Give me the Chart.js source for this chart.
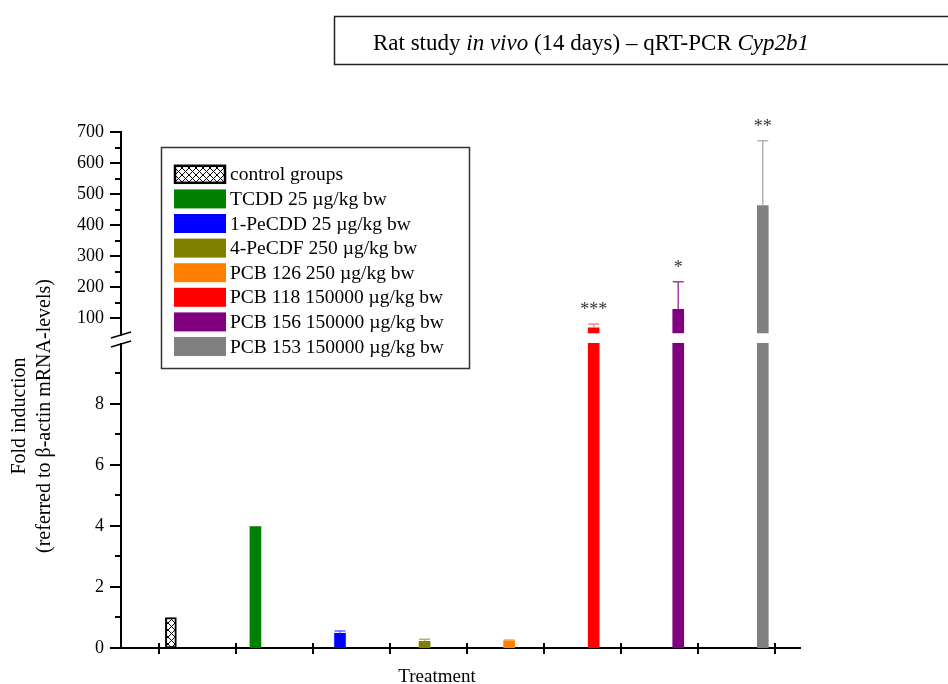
<!DOCTYPE html>
<html>
<head>
<meta charset="utf-8">
<script src="https://cdn.jsdelivr.net/npm/chart.js@4.4.0/dist/chart.umd.min.js"></script>
<style>
  body { margin: 0; background: #fff; }
  #wrap { width: 948px; height: 684px; }
</style>
</head>
<body>
<div id="wrap"><canvas id="myChart" width="948" height="684"></canvas></div>
<script>
const ctx = document.getElementById('myChart');

// data
const categories = [
  'control groups',
  'TCDD 25 µg/kg bw',
  '1-PeCDD 25 µg/kg bw',
  '4-PeCDF 250 µg/kg bw',
  'PCB 126 250 µg/kg bw',
  'PCB 118 150000 µg/kg bw',
  'PCB 156 150000 µg/kg bw',
  'PCB 153 150000 µg/kg bw'
];
const foldInduction = [1.0, 3.98, 0.48, 0.22, 0.24, 68, 128, 463];
const errorUp = [0, 0, 0.08, 0.07, 0.02, 13, 89, 209];
const significance = ['', '', '', '', '', '***', '*', '**'];

// tick marks / labels of the broken y axis
const lowerTicks = [0, 1, 2, 3, 4, 5, 6, 7, 8, 9];
const lowerTickLabels = [0, 2, 4, 6, 8];
const upperTicks = [100, 150, 200, 250, 300, 350, 400, 450, 500, 550, 600, 650, 700];
const upperTickLabels = [100, 200, 300, 400, 500, 600, 700];

// colours
const barColors = [null, '#008000', '#0000ff', '#808000', '#ff8000', '#ff0000', '#800080', '#808080'];
const errColors = ['#000', '#008000', '#6666ff', '#b3b366', '#ffa64d', '#ff8080', '#a040a0', '#b3b3b3'];

const serif = "'Liberation Serif', 'Times New Roman', serif";
const lowerTop = 10;   // lower segment ends here (axis break)
const upperMin = 50;   // upper segment starts here

// cross hatch for the control group
const makeHatch = () => {
  const c = document.createElement('canvas');
  c.width = 7; c.height = 7;
  const g = c.getContext('2d');
  g.fillStyle = '#fff';
  g.fillRect(0, 0, 7, 7);
  g.strokeStyle = '#000';
  g.lineWidth = 1;
  g.beginPath();
  g.moveTo(0, 0); g.lineTo(7, 7);
  g.moveTo(7, 0); g.lineTo(0, 7);
  g.stroke();
  return ctx.getContext('2d').createPattern(c, 'repeat');
};
const hatch = makeHatch();
const fills = barColors.map((c) => c || hatch);

// keep each bar inside its own axis segment
const clipPlugin = {
  id: 'segmentClip',
  beforeDatasetDraw(chart, args) {
    const ds = chart.data.datasets[args.index];
    const sc = chart.scales[ds.yAxisID];
    const top = ds.yAxisID === 'yLow' ? sc.getPixelForValue(lowerTop) : sc.top;
    const c = chart.ctx;
    c.save();
    c.beginPath();
    c.rect(chart.chartArea.left, top, chart.chartArea.width, sc.bottom - top);
    c.clip();
  },
  afterDatasetDraw(chart) {
    chart.ctx.restore();
  }
};

// upward error bars + significance stars
const errorBarPlugin = {
  id: 'errorBars',
  afterDatasetsDraw(chart) {
    const c = chart.ctx;
    const { x, yLow, yHigh } = chart.scales;
    c.save();
    foldInduction.forEach((v, i) => {
      const sc = v > lowerTop ? yHigh : yLow;
      const px = x.getPixelForValue(i + 1);
      const yBar = sc.getPixelForValue(v);
      const yErr = sc.getPixelForValue(v + errorUp[i]);
      if (errorUp[i] > 0) {
        c.strokeStyle = errColors[i];
        c.lineWidth = 1.5;
        c.beginPath();
        c.moveTo(px, yBar);
        c.lineTo(px, yErr);
        c.moveTo(px - 5.5, yErr);
        c.lineTo(px + 5.5, yErr);
        c.stroke();
      }
      if (significance[i]) {
        c.fillStyle = '#333';
        c.font = '18px ' + serif;
        c.textAlign = 'center';
        c.textBaseline = 'alphabetic';
        c.fillText(significance[i], px, yErr - 9);
      }
    });
    c.restore();
  }
};

// ticks, axis break, titles, legend
const decorPlugin = {
  id: 'decor',
  afterDraw(chart) {
    const c = chart.ctx;
    const { x, yLow, yHigh } = chart.scales;
    const axisX = chart.chartArea.left;
    const axisY = chart.chartArea.bottom;
    c.save();
    c.strokeStyle = '#000';
    c.lineWidth = 2;

    // y tick marks (major long, minor short)
    const yTickMarks = (sc, labels) => {
      sc.ticks.forEach((t) => {
        const len = labels.includes(t.value) ? 11 : 6;
        const py = Math.round(sc.getPixelForValue(t.value));
        c.beginPath();
        c.moveTo(axisX - len, py);
        c.lineTo(axisX, py);
        c.stroke();
      });
    };
    yTickMarks(yLow, lowerTickLabels);
    yTickMarks(yHigh, upperTickLabels);

    // x tick marks crossing the axis
    x.ticks.forEach((t) => {
      const px = Math.round(x.getPixelForValue(t.value));
      c.beginPath();
      c.moveTo(px, axisY - 5);
      c.lineTo(px, axisY + 6);
      c.stroke();
    });

    // axis break
    c.fillStyle = '#fff';
    c.fillRect(axisX - 4, 336, 8, 7);
    c.lineWidth = 1.5;
    c.beginPath();
    c.moveTo(111, 338); c.lineTo(131, 332);
    c.moveTo(111, 347); c.lineTo(131, 341);
    c.stroke();

    // title box
    c.strokeStyle = '#222';
    c.lineWidth = 1.5;
    c.strokeRect(334.5, 16.5, 700, 48);
    const parts = [
      ['Rat study ', ''], ['in vivo', 'italic '], [' (14 days) – qRT-PCR ', ''], ['Cyp2b1', 'italic ']
    ];
    const tSize = '23px ';
    let total = 0;
    parts.forEach(([t, s]) => { c.font = s + tSize + serif; total += c.measureText(t).width; });
    let tx = 591 - total / 2;
    c.fillStyle = '#000';
    c.textAlign = 'left';
    c.textBaseline = 'alphabetic';
    parts.forEach(([t, s]) => {
      c.font = s + tSize + serif;
      c.fillText(t, tx, 50);
      tx += c.measureText(t).width;
    });

    // y axis title
    c.save();
    c.translate(0, 416);
    c.rotate(-Math.PI / 2);
    c.textAlign = 'center';
    c.textBaseline = 'middle';
    c.font = '20px ' + serif;
    c.fillText('Fold induction', 0, 20);
    c.fillText('(referred to β-actin mRNA-levels)', 0, 45);
    c.restore();

    // x axis title
    c.textAlign = 'center';
    c.textBaseline = 'middle';
    c.font = '19px ' + serif;
    c.fillText('Treatment', 437, 677);

    // legend
    c.strokeStyle = '#333';
    c.lineWidth = 1.5;
    c.strokeRect(161.5, 147.5, 308, 221);
    c.font = '19.5px ' + serif;
    c.textAlign = 'left';
    categories.forEach((name, i) => {
      const ry = 174.3 + i * 24.6;
      c.fillStyle = fills[i];
      c.fillRect(174, ry - 9.5, 52, 19);
      if (i === 0) {
        c.strokeStyle = '#000';
        c.lineWidth = 2.5;
        c.strokeRect(175, ry - 8.5, 50, 17);
      }
      c.fillStyle = '#000';
      c.fillText(name, 230, ry + 1);
    });
    c.restore();
  }
};

const yScale = (min, max, weight, ticks, labels) => ({
  type: 'linear',
  position: 'left',
  stack: 'y',
  stackWeight: weight,
  min: min,
  max: max,
  grid: { display: false, drawTicks: false },
  border: { color: '#000', width: 2 },
  afterBuildTicks: (s) => { s.ticks = ticks.map((v) => ({ value: v })); },
  afterFit: (s) => { s.width = 121; },
  ticks: {
    autoSkip: false,
    padding: 17,
    color: '#000',
    font: { family: serif, size: 18 },
    callback: (v) => (labels.includes(v) ? v : '')
  }
});

new Chart(ctx, {
  type: 'bar',
  data: {
    datasets: [
      {
        label: 'lower',
        yAxisID: 'yLow',
        data: foldInduction.map((v, i) => ({ x: i + 1, y: v })),
        backgroundColor: fills,
        borderColor: '#000',
        borderWidth: fills.map((f, i) => (i === 0 ? 2 : 0)),
        borderSkipped: false,
        barThickness: 11,
        grouped: false
      },
      {
        label: 'upper',
        yAxisID: 'yHigh',
        data: foldInduction.map((v, i) => ({ x: i + 1, y: v > upperMin ? v : null })),
        backgroundColor: fills,
        borderWidth: 0,
        barThickness: 11,
        grouped: false
      }
    ]
  },
  options: {
    responsive: false,
    animation: false,
    layout: { padding: { left: 0, top: 132, right: 148, bottom: 36 } },
    scales: {
      x: {
        type: 'linear',
        min: 0.41,
        max: 8.44,
        offset: false,
        z: 1,
        grid: { display: false, offset: false },
        border: { color: '#000', width: 2 },
        ticks: { display: false },
        afterBuildTicks: (s) => {
          s.ticks = [0, 1, 2, 3, 4, 5, 6, 7, 8].map((k) => ({ value: 0.863 + 0.9106 * k }));
        },
        afterFit: (s) => { s.height = 0; }
      },
      yLow: yScale(0, 10.31, 314.5, lowerTicks, lowerTickLabels),
      yHigh: yScale(upperMin, 700, 201.5, upperTicks, upperTickLabels)
    },
    plugins: {
      legend: { display: false },
      tooltip: { enabled: false }
    }
  },
  plugins: [clipPlugin, errorBarPlugin, decorPlugin]
});
</script>
</body>
</html>
